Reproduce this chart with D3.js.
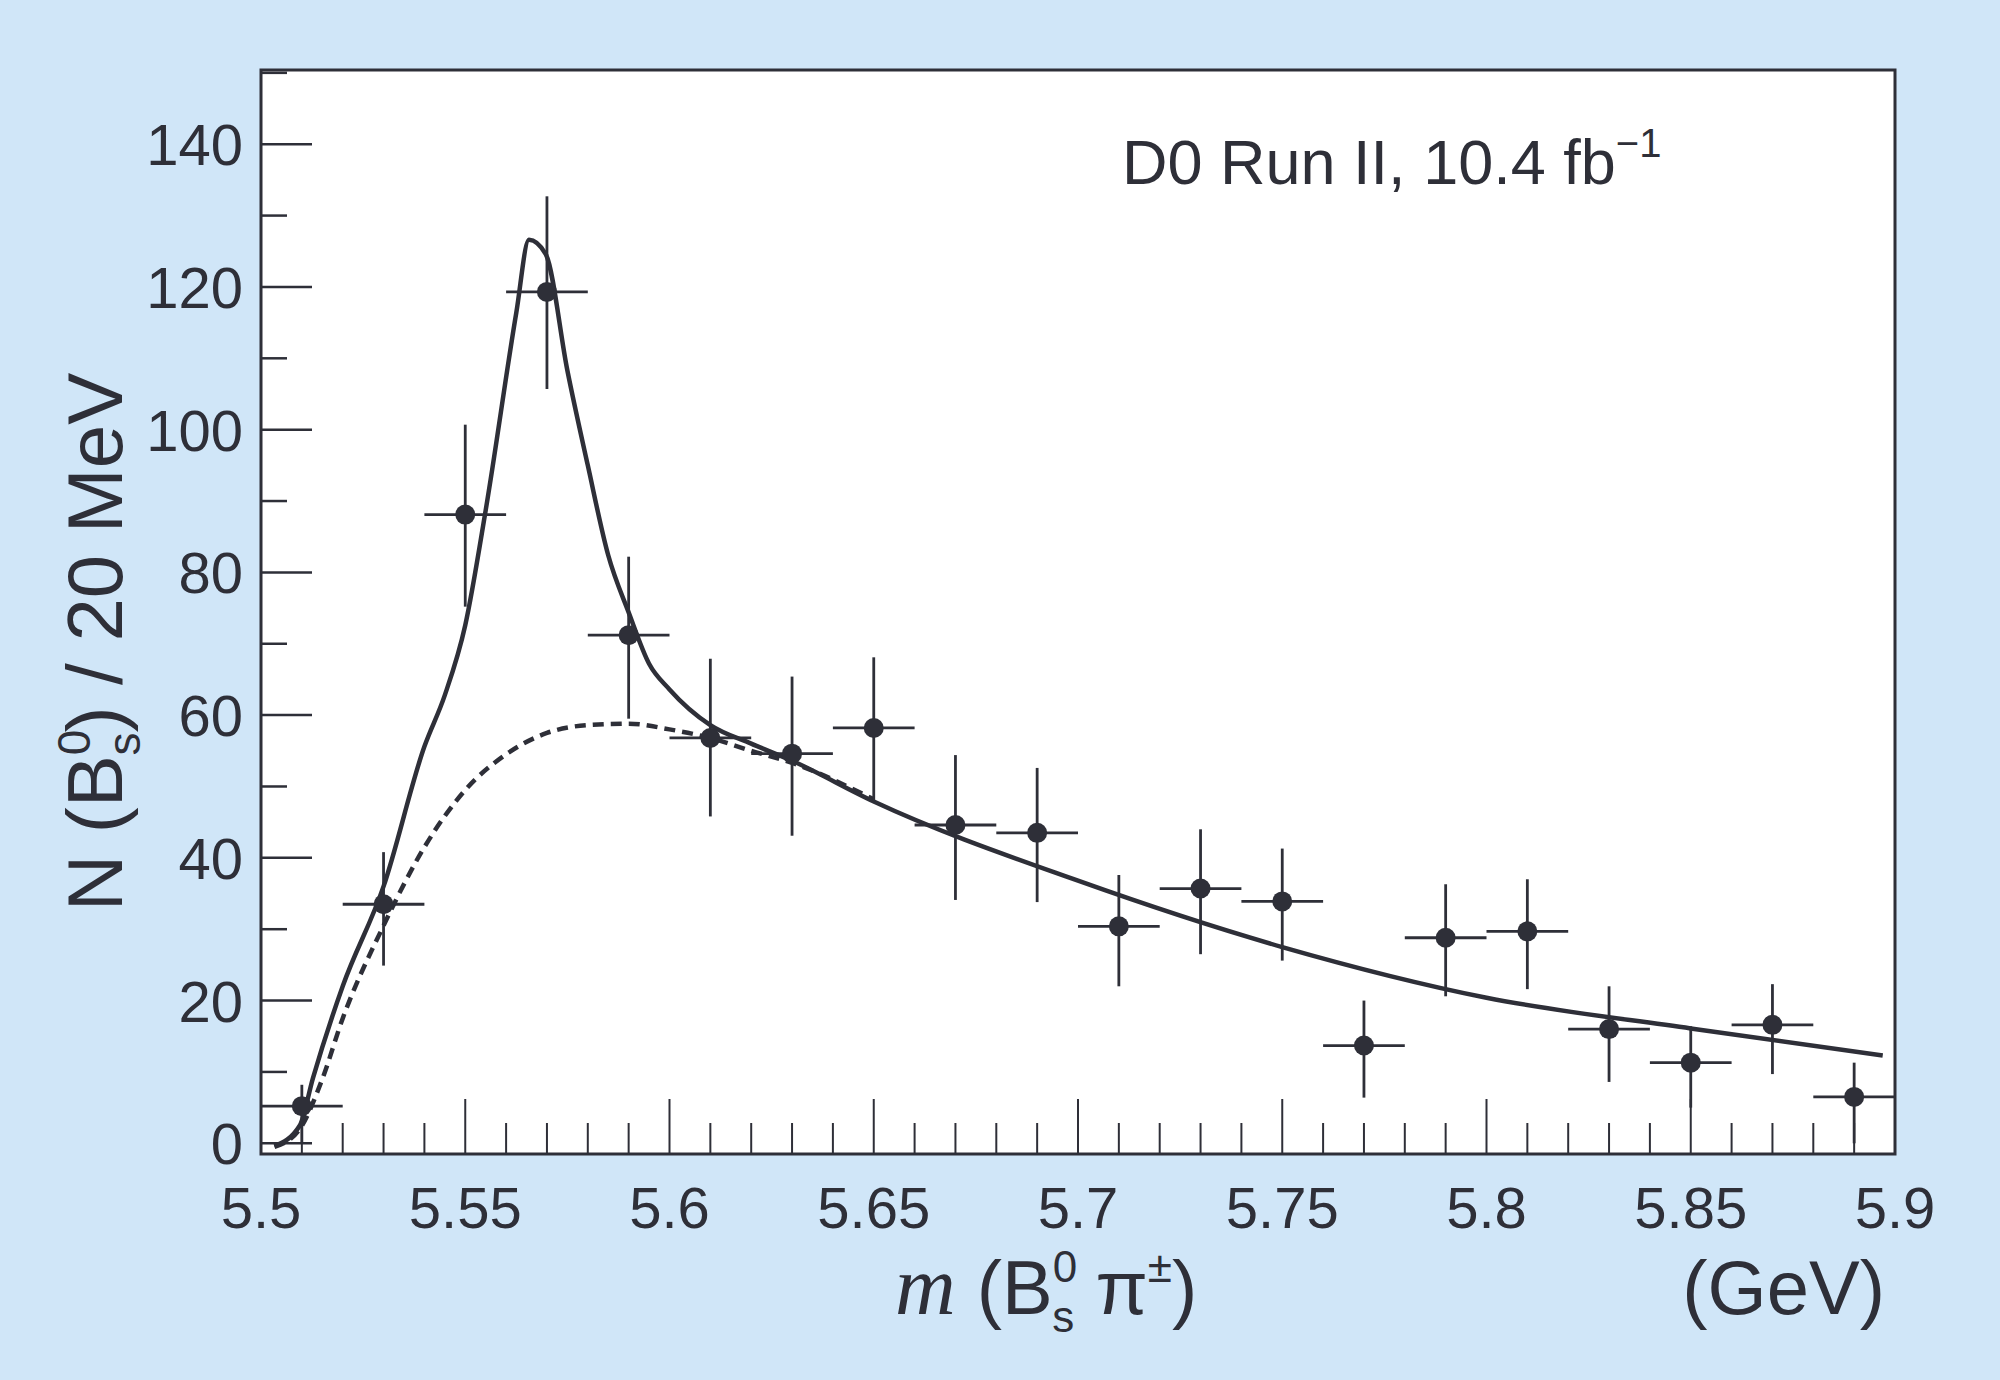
<!DOCTYPE html>
<html><head><meta charset="utf-8">
<script src="https://cdn.jsdelivr.net/npm/d3@7"></script>
<style>body{margin:0;background:#d0e6f8;} svg{display:block;}</style>
</head><body>
<svg id="chart" width="2000" height="1380"></svg>
<script>
// data points: bin centre, value, lower and upper error
var massBins = [5.51,5.53,5.55,5.57,5.59,5.61,5.63,5.65,5.67,5.69,5.71,5.73,5.75,5.77,5.79,5.81,5.83,5.85,5.87,5.89];
var counts   = [5.2,33.5,88.1,119.3,71.2,56.8,54.6,58.2,44.6,43.5,30.4,35.7,33.9,13.7,28.8,29.7,16.0,11.3,16.6,6.5];
var errLow   = [0,24.9,75.2,105.7,59.5,45.8,43.1,47.9,34.1,33.8,22.0,26.5,25.6,6.4,20.6,21.6,8.6,5.0,9.7,0];
var errHigh  = [8.2,40.8,100.7,132.7,82.2,67.9,65.4,68.1,54.4,52.6,37.6,44.0,41.3,20.0,36.3,37.0,22.0,16.4,22.3,11.3];

// total fit (solid)
var fitX = [5.5033,5.5095,5.5127,5.52,5.53,5.54,5.545,5.55,5.555,5.5625,5.5656,5.5697,5.575,5.58,5.585,5.59,5.595,5.6,5.61,5.62,5.63,5.65,5.7,5.75,5.8,5.85,5.897];
var fitY = [-0.4,2.5,9.1,22,36,55.6,62.8,72.6,88.7,116.4,126.6,124.6,108.3,95,82.4,74.4,67.2,63.6,58.6,56,53.6,47.9,36.8,27.5,20.4,16.1,12.3];
// background fit (dashed)
var bkgX = [5.5033,5.5095,5.515,5.52,5.53,5.54,5.55,5.56,5.57,5.58,5.59,5.6,5.61,5.62,5.63,5.65];
var bkgY = [-0.5,2,9,17.5,30.5,41.5,49.5,54.5,57.5,58.6,58.8,58,56.8,55,53.3,48.2];

var xTicks = [5.5,5.55,5.6,5.65,5.7,5.75,5.8,5.85,5.9];
var yTicks = [0,20,40,60,80,100,120,140];

var ink = "#2e2f38";
var font = "Liberation Sans, Arial";
var pLeft = 261, pRight = 1895, pTop = 70, pBottom = 1154;
var svg = d3.select("#chart");
var x = d3.scaleLinear().domain([5.5,5.9]).range([pLeft,pRight]);
var y = d3.scaleLinear().domain([-1.5,150.4]).range([pBottom,pTop]);

svg.append("rect").attr("x",pLeft).attr("y",pTop).attr("width",pRight-pLeft).attr("height",pBottom-pTop)
  .attr("fill","#fff").attr("stroke",ink).attr("stroke-width",3);

// y ticks
d3.range(0,151,10).forEach(function(v){
  var major = v % 20 === 0;
  svg.append("line").attr("x1",pLeft).attr("x2",pLeft+(major?51:26)).attr("y1",y(v)).attr("y2",y(v))
    .attr("stroke",ink).attr("stroke-width",2.5);
});
yTicks.forEach(function(v){
  svg.append("text").attr("x",pLeft-18).attr("y",y(v)+21).attr("text-anchor","end")
    .attr("font-family",font).attr("font-size",58).attr("fill",ink).text(v);
});
// x ticks
d3.range(0,41).forEach(function(i){
  var v = 5.5 + i*0.01, major = i % 5 === 0;
  svg.append("line").attr("x1",x(v)).attr("x2",x(v)).attr("y1",pBottom).attr("y2",pBottom-(major?55:31))
    .attr("stroke",ink).attr("stroke-width",2);
});
xTicks.forEach(function(v){
  svg.append("text").attr("x",x(v)).attr("y",pBottom+74).attr("text-anchor","middle")
    .attr("font-family",font).attr("font-size",58).attr("fill",ink).text(v);
});

var line = d3.line().curve(d3.curveMonotoneX).x(function(d){return x(d[0]);}).y(function(d){return y(d[1]);});
svg.append("path").attr("d",line(d3.zip(bkgX,bkgY))).attr("fill","none").attr("stroke",ink)
  .attr("stroke-width",4.5).attr("stroke-dasharray","11,7");
svg.append("path").attr("d",line(d3.zip(fitX,fitY))).attr("fill","none").attr("stroke",ink)
  .attr("stroke-width",4.5);

// data points
massBins.forEach(function(m,i){
  var g = svg.append("g").attr("stroke",ink).attr("stroke-width",2.8);
  g.append("line").attr("x1",x(Math.max(5.5,m-0.01))).attr("x2",x(Math.min(5.9,m+0.01)))
    .attr("y1",y(counts[i])).attr("y2",y(counts[i]));
  g.append("line").attr("x1",x(m)).attr("x2",x(m)).attr("y1",y(errLow[i])).attr("y2",y(errHigh[i]));
  svg.append("circle").attr("cx",x(m)).attr("cy",y(counts[i])).attr("r",10).attr("fill",ink);
});

// labels
var lbl = svg.append("text").attr("x",1122).attr("y",184).attr("font-family",font)
  .attr("font-size",63).attr("fill",ink);
lbl.append("tspan").text("D0 Run II, 10.4 fb");
lbl.append("tspan").attr("dy",-27).attr("font-size",40).text("\u22121");

var yl = svg.append("text").attr("transform","translate(122,642) rotate(-90)").attr("text-anchor","middle")
  .attr("font-family",font).attr("font-size",78).attr("fill",ink);
yl.append("tspan").text("N (B");
yl.append("tspan").attr("font-size",46).attr("dy",-32).text("0");
yl.append("tspan").attr("font-size",46).attr("dx",-26).attr("dy",50).text("s");
yl.append("tspan").attr("dy",-18).text(")  / 20 MeV");

var xl = svg.append("text").attr("x",895).attr("y",1314).attr("font-family",font)
  .attr("font-size",76).attr("fill",ink);
xl.append("tspan").attr("font-family","Liberation Serif, Times New Roman").attr("font-style","italic").attr("font-size",84).text("m");
xl.append("tspan").text(" (B");
xl.append("tspan").attr("font-size",44).attr("dy",-32).text("0");
xl.append("tspan").attr("font-size",44).attr("dx",-25).attr("dy",50).text("s");
xl.append("tspan").attr("dy",-18).text(" \u03c0");
xl.append("tspan").attr("font-size",44).attr("dy",-32).text("\u00b1");
xl.append("tspan").attr("dy",32).text(")");

svg.append("text").attr("x",1885).attr("y",1314).attr("text-anchor","end").attr("font-family",font)
  .attr("font-size",76).attr("fill",ink).text("(GeV)");
</script>
</body></html>
